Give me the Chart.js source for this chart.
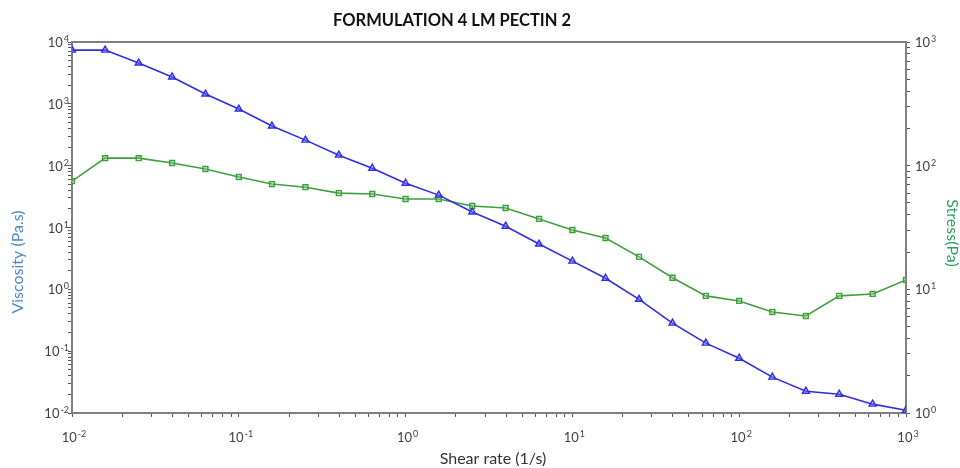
<!DOCTYPE html>
<html>
<head>
<meta charset="utf-8">
<script src="https://cdn.jsdelivr.net/npm/chart.js@4"></script>
<style>
  body { margin: 0; background: #fff; }
  #wrap { width: 960px; height: 468px; }
</style>
</head>
<body>
<div id="wrap"><canvas id="flowChart" width="960" height="468"></canvas></div>
<script>
const shearRate = [0.01, 0.0158, 0.0251, 0.0398, 0.0631, 0.1, 0.158, 0.251, 0.398, 0.631,
  1, 1.58, 2.51, 3.98, 6.31, 10, 15.8, 25.1, 39.8, 63.1, 100, 158, 251, 398, 631, 1000];
const viscosity = [7400, 7400, 4570, 2720, 1440, 824, 437, 259, 148, 91,
  52, 33.4, 17.8, 10.5, 5.4, 2.86, 1.51, 0.69, 0.284, 0.135, 0.077, 0.038, 0.0225, 0.0201, 0.0139, 0.0111];
const stress = [75, 115, 115, 105, 94, 81, 71, 67, 60, 59,
  53.8, 53.8, 47.2, 45.5, 37.1, 30.2, 26.0, 18.3, 12.4, 8.85, 8.06, 6.56, 6.09, 8.85, 9.18, 11.9];

const xExponents = [-2, -1, 0, 1, 2, 3];
const yExponents = [-2, -1, 0, 1, 2, 3, 4];
const y2Exponents = [0, 1, 2, 3];

const chartTitle = 'FORMULATION 4 LM PECTIN 2';
const xTitle = 'Shear rate (1/s)';
const yTitle = 'Viscosity (Pa.s)';
const y2Title = 'Stress(Pa)';

const FONT = 'Lato, "Open Sans", sans-serif';
const AXIS_GRAY = '#808080';
const TEXT_GRAY = '#404040';

// major + minor ticks (1..9 per decade) for a log axis
function decadeTicks(exps) {
  const out = [];
  for (let k = 0; k < exps.length; k++) {
    const e = exps[k];
    const last = k === exps.length - 1;
    for (let m = 1; m <= (last ? 1 : 9); m++) {
      out.push({ value: m * Math.pow(10, e), major: m === 1 });
    }
  }
  return out;
}

function drawPower(ctx, exp, x, y, align) {
  ctx.font = '13px ' + FONT;
  const base = '10';
  const wb = ctx.measureText(base).width;
  ctx.font = '9px ' + FONT;
  const sup = exp < 0 ? '-' + Math.abs(exp) : String(exp);
  const ws = ctx.measureText(sup).width;
  const total = wb + ws + 1;
  let x0 = x;
  if (align === 'center') x0 = x - total / 2;
  if (align === 'right') x0 = x - total;
  ctx.textAlign = 'left';
  ctx.textBaseline = 'alphabetic';
  ctx.fillStyle = TEXT_GRAY;
  ctx.font = '13px ' + FONT;
  ctx.fillText(base, x0, y);
  ctx.font = '9px ' + FONT;
  ctx.fillText(sup, x0 + wb + 1, y - 5);
}

const labelPlugin = {
  id: 'labelPlugin',
  afterDraw(chart) {
    const { ctx, chartArea, scales } = chart;
    ctx.save();

    // top border of the frame
    ctx.strokeStyle = AXIS_GRAY;
    ctx.lineWidth = 2;
    ctx.beginPath();
    ctx.moveTo(chartArea.left, chartArea.top);
    ctx.lineTo(chartArea.right, chartArea.top);
    ctx.stroke();

    xExponents.forEach(e => {
      const px = scales.x.getPixelForValue(Math.pow(10, e));
      drawPower(ctx, e, px + 2, chartArea.bottom + 29, 'center');
    });
    yExponents.forEach(e => {
      const py = scales.y.getPixelForValue(Math.pow(10, e));
      drawPower(ctx, e, chartArea.left - 3, py + 5, 'right');
    });
    y2Exponents.forEach(e => {
      const py = scales.y2.getPixelForValue(Math.pow(10, e));
      drawPower(ctx, e, chartArea.right + 9, py + 5, 'left');
    });

    // titles
    ctx.fillStyle = '#111';
    ctx.font = 'bold 16.5px ' + FONT;
    ctx.textAlign = 'center';
    ctx.textBaseline = 'middle';
    ctx.fillText(chartTitle, 452, 21);

    ctx.fillStyle = '#333';
    ctx.font = '16px ' + FONT;
    ctx.fillText(xTitle, 493, 459);

    ctx.save();
    ctx.translate(18, 262);
    ctx.rotate(-Math.PI / 2);
    ctx.fillStyle = '#4a86c8';
    ctx.fillText(yTitle, 0, 0);
    ctx.restore();

    ctx.save();
    ctx.translate(952, 233);
    ctx.rotate(Math.PI / 2);
    ctx.fillStyle = '#2f9e5e';
    ctx.fillText(y2Title, 0, 0);
    ctx.restore();

    ctx.restore();
  }
};

const axisGrid = {
  drawOnChartArea: false,
  drawTicks: true,
  tickLength: 4,
  color: '#555'
};

const ctx = document.getElementById('flowChart').getContext('2d');
new Chart(ctx, {
  type: 'line',
  data: {
    datasets: [{
      label: 'Viscosity',
      data: shearRate.map((x, i) => ({ x: x, y: viscosity[i] })),
      yAxisID: 'y',
      borderColor: '#2e2ee0',
      backgroundColor: 'rgba(120, 120, 255, 0.35)',
      borderWidth: 1.6,
      pointStyle: 'triangle',
      pointRadius: 4,
      pointBorderWidth: 1.4,
      pointBorderColor: '#2e2ee0',
      tension: 0
    }, {
      label: 'Stress',
      data: shearRate.map((x, i) => ({ x: x, y: stress[i] })),
      yAxisID: 'y2',
      borderColor: '#3f9f3f',
      backgroundColor: 'rgba(140, 210, 140, 0.35)',
      borderWidth: 1.6,
      pointStyle: 'rect',
      pointRadius: 3.5,
      pointBorderWidth: 1.4,
      pointBorderColor: '#3f9f3f',
      tension: 0
    }]
  },
  options: {
    responsive: false,
    animation: false,
    layout: { padding: { top: 42, left: 0, right: 0, bottom: 0 } },
    plugins: {
      legend: { display: false },
      tooltip: { enabled: false },
      title: { display: false }
    },
    scales: {
      x: {
        type: 'logarithmic',
        position: 'bottom',
        min: 0.01,
        max: 1000,
        grid: axisGrid,
        border: { color: AXIS_GRAY, width: 2 },
        ticks: { display: false },
        afterBuildTicks: function (scale) { scale.ticks = decadeTicks(xExponents); },
        afterFit: function (scale) { scale.height = 55; }
      },
      y: {
        type: 'logarithmic',
        position: 'left',
        min: 0.01,
        max: 10000,
        grid: axisGrid,
        border: { color: AXIS_GRAY, width: 2 },
        ticks: { display: false },
        afterBuildTicks: function (scale) { scale.ticks = decadeTicks(yExponents); },
        afterFit: function (scale) { scale.width = 72; }
      },
      y2: {
        type: 'logarithmic',
        position: 'right',
        min: 1,
        max: 1000,
        grid: axisGrid,
        border: { color: AXIS_GRAY, width: 2 },
        ticks: { display: false },
        afterBuildTicks: function (scale) { scale.ticks = decadeTicks(y2Exponents); },
        afterFit: function (scale) { scale.width = 54; }
      }
    }
  },
  plugins: [labelPlugin]
});
</script>
</body>
</html>
